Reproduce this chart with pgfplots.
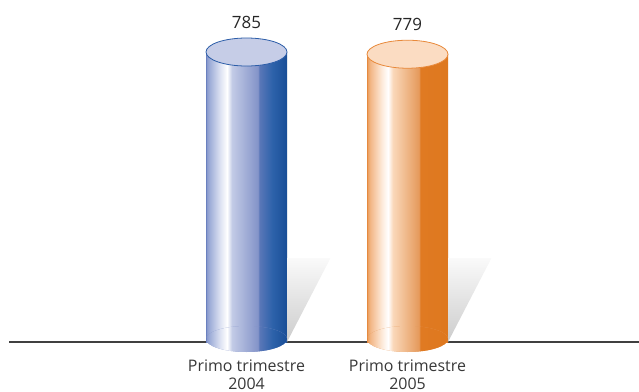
\documentclass[border=0pt]{standalone}
\usepackage{pgfplots}
\pgfplotsset{compat=1.18}
\usetikzlibrary{shapes.geometric}
\usepackage{fontspec}
\setmainfont{Open Sans}

\definecolor{bTop}{HTML}{C6CDE7}
\definecolor{bEdge}{HTML}{2C5DA8}
\definecolor{oTop}{HTML}{FBDCC2}
\definecolor{oEdge}{HTML}{E8893A}
\definecolor{bL}{HTML}{6A80BF}
\definecolor{b0}{HTML}{8A9BCD}
\definecolor{b1}{HTML}{9CABD7}
\definecolor{b2}{HTML}{DFE4F3}
\definecolor{b4}{HTML}{C3CBE6}
\definecolor{b5}{HTML}{8494C9}
\definecolor{b6}{HTML}{5A77B8}
\definecolor{b7}{HTML}{2D62AA}
\definecolor{b8}{HTML}{1A4F98}
\definecolor{bR}{HTML}{174788}
\definecolor{oL}{HTML}{E48A40}
\definecolor{o0}{HTML}{EDA263}
\definecolor{o1}{HTML}{F2B685}
\definecolor{o2}{HTML}{FDE9D8}
\definecolor{o4}{HTML}{FAD8BA}
\definecolor{o5}{HTML}{E59A5C}
\definecolor{o6}{HTML}{E07A22}
\definecolor{o8}{HTML}{DE781F}
\definecolor{oR}{HTML}{D87018}

\pgfdeclarehorizontalshading{blueCyl}{100bp}{color(0bp)=(bL); color(25bp)=(bL); color(25.6bp)=(b0); color(27bp)=(b1); color(34bp)=(b2); color(38bp)=(white); color(41bp)=(b4); color(57bp)=(b5); color(58bp)=(b6); color(66bp)=(b7); color(74.4bp)=(b8); color(75bp)=(bR); color(100bp)=(bR)}
\pgfdeclarehorizontalshading{orangeCyl}{100bp}{color(0bp)=(oL); color(25bp)=(oL); color(25.6bp)=(o0); color(27bp)=(o1); color(34bp)=(o2); color(38bp)=(white); color(41bp)=(o4); color(57bp)=(o5); color(58bp)=(o6); color(74.4bp)=(o8); color(75bp)=(oR); color(100bp)=(oR)}

\pgfdeclareplotmark{shad}{\shade[draw=none, fill=none, top color=black!2, bottom color=black!20] (40.5bp,0bp) -- (40.5bp,84bp) -- (84bp,84bp) -- cycle;}

\begin{document}
\begin{tikzpicture}
\useasboundingbox (0,0) rectangle (639bp,392bp);
\begin{axis}[
  at={(9bp,35.22bp)}, anchor=south west,
  scale only axis, width=630bp, height=347.26bp,
  xmin=-1.4752, xmax=2.4379, ymin=-40, ymax=900,
  clip=false,
  axis x line*=bottom, axis y line=none,
  x axis line style={draw=none},
  xtick={0,1},
  xticklabels={{Primo trimestre\\2004},{Primo trimestre\\2005}},
  xtick style={draw=none}, ytick=\empty,
  xticklabel style={align=center, font=\fontsize{16}{18}\selectfont, text=black!78, yshift=0.8bp},
  /pgf/number format/assume math mode=true,
]
\addplot[black!75, line width=1.1bp, mark=none] coordinates {(-1.4752,0) (2.4379,0)};
\addplot[only marks, mark=shad, draw=none, fill=none] coordinates {(0,0) (1,0)};
\addplot[draw=none, mark=none, nodes near coords={},
  nodes near coords style={ellipse, anchor=center, inner sep=0pt, yshift=3bp, minimum width=81bp, minimum height=26bp, fill=b5, shade, shading=blueCyl}]
  coordinates {(0,0)};
\addplot[draw=none, mark=none, nodes near coords={},
  nodes near coords style={ellipse, anchor=center, inner sep=0pt, yshift=3bp, minimum width=81bp, minimum height=26bp, fill=o5, shade, shading=orangeCyl}]
  coordinates {(1,0)};
\addplot[ybar, bar width=81bp, bar shift=0pt, draw=none, shade, shading=blueCyl] coordinates {(0,785)};
\addplot[ybar, bar width=81bp, bar shift=0pt, draw=none, shade, shading=orangeCyl] coordinates {(1,779)};
\addplot[draw=none, mark=none, nodes near coords={},
  nodes near coords style={ellipse, anchor=center, inner sep=0pt, minimum width=81bp, minimum height=28bp, fill=bTop, draw=bEdge, line width=0.8bp}]
  coordinates {(0,785)};
\addplot[draw=none, mark=none, nodes near coords={},
  nodes near coords style={ellipse, anchor=center, inner sep=0pt, minimum width=81bp, minimum height=28bp, fill=oTop, draw=oEdge, line width=0.8bp}]
  coordinates {(1,779)};
\addplot[draw=none, mark=none, nodes near coords,
  nodes near coords style={anchor=base, inner sep=0pt, yshift=24bp, font=\fontsize{17}{20}\selectfont, text=black!85}]
  coordinates {(0,785) (1,779)};
\end{axis}
\end{tikzpicture}
\end{document}
